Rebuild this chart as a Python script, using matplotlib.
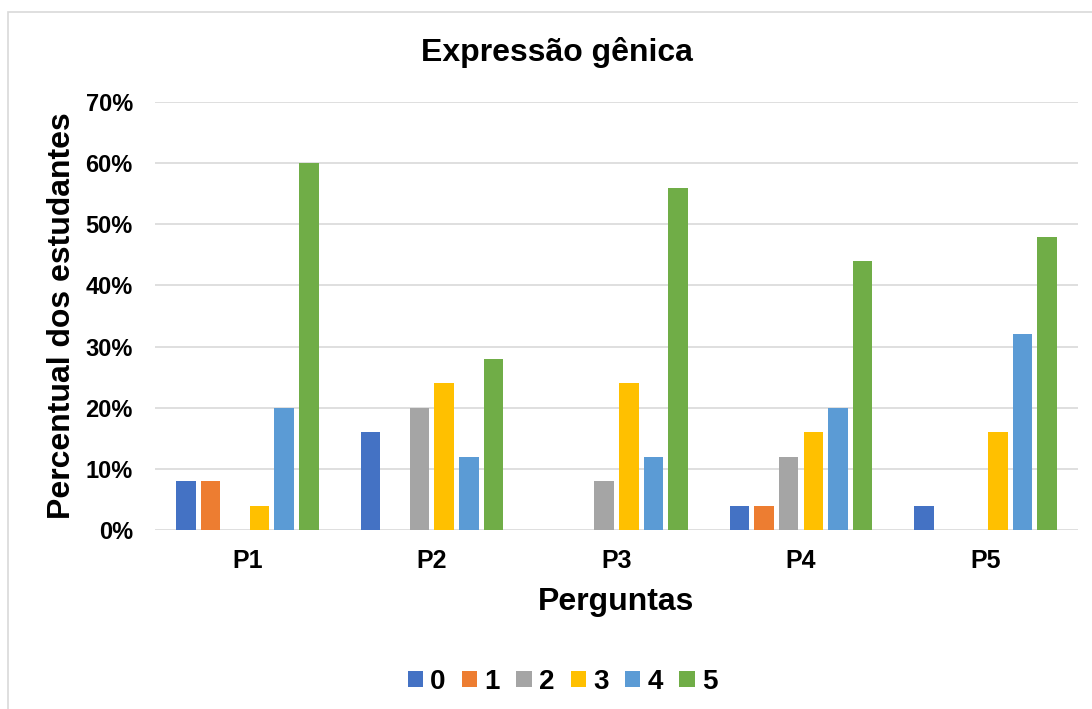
import numpy as np
import matplotlib.pyplot as plt
from matplotlib.patches import Rectangle
from matplotlib.ticker import PercentFormatter

plt.rcParams['font.family'] = ['Liberation Sans', 'DejaVu Sans']
plt.rcParams['font.weight'] = 'bold'

# Data
perguntas = ['P1', 'P2', 'P3', 'P4', 'P5']
series_names = ['0', '1', '2', '3', '4', '5']
valores = {
    '0': [8, 16, 0, 4, 4],
    '1': [8, 0, 0, 4, 0],
    '2': [0, 20, 8, 12, 0],
    '3': [4, 24, 24, 16, 16],
    '4': [20, 12, 12, 20, 32],
    '5': [60, 28, 56, 44, 48],
}
cores = ['#4472C4', '#ED7D31', '#A5A5A5', '#FFC000', '#5B9BD5', '#70AD47']

fig = plt.figure(figsize=(10.92, 7.09), dpi=100)
ax = fig.add_axes([0.142, 0.2525, 0.845, 0.6035])

# outer chart border
fig.patches.append(Rectangle((8 / 1092, -0.05), 1.2, 1 - 12 / 709 + 0.05,
                             transform=fig.transFigure, fill=False,
                             edgecolor='#D9D9D9', linewidth=1.2))

x = np.arange(len(perguntas))
slot = 0.1333
width = 0.106
for i, (name, cor) in enumerate(zip(series_names, cores)):
    offset = (i - 2.5) * slot
    ax.bar(x + offset, valores[name], width=width, color=cor, label=name, zorder=3)

ax.set_xlim(-0.5, 4.5)
ax.set_ylim(0, 70)
ax.set_yticks(range(0, 71, 10))
ax.yaxis.set_major_formatter(PercentFormatter(decimals=0))
ax.set_xticks(x)
ax.set_xticklabels(perguntas)
ax.grid(axis='y', color='#D9D9D9', linewidth=1.2, zorder=0)
for s in ['top', 'right', 'left', 'bottom']:
    ax.spines[s].set_visible(False)
ax.tick_params(axis='both', length=0)
ax.tick_params(axis='y', pad=16, labelsize=17)
ax.tick_params(axis='x', pad=14, labelsize=18)

fig.text(557 / 1092, 1 - 52 / 709, 'Expressão gênica', fontsize=23,
         fontweight='bold', ha='center', va='center')
ax.set_xlabel('Perguntas', fontsize=23, fontweight='bold', labelpad=10)
ax.set_ylabel('Percentual dos estudantes', fontsize=23, fontweight='bold', labelpad=6)

ax.legend(loc='center', bbox_to_anchor=(0.4415, -0.355), ncol=6, frameon=False,
          fontsize=20, handlelength=0.55, handleheight=0.55, handletextpad=0.25,
          columnspacing=0.6)

fig.savefig('out.png', dpi=100)
